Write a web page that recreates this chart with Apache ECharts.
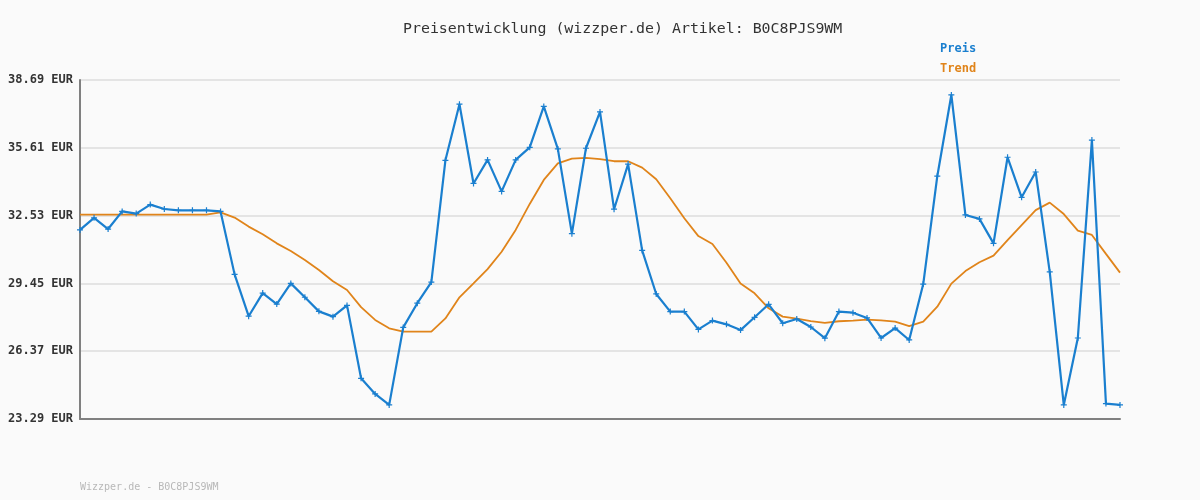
<!DOCTYPE html>
<html><head><meta charset="utf-8">
<script src="https://cdn.jsdelivr.net/npm/echarts@6/dist/echarts.min.js"></script>
<style>html,body{margin:0;padding:0;background:#fafafa}#c{width:1200px;height:500px}</style>
</head><body><div id="c"></div>
<script>
const titleText = 'Preisentwicklung (wizzper.de) Artikel: B0C8PJS9WM';
const footerText = 'Wizzper.de - B0C8PJS9WM';
const yTicks = [23.29, 26.37, 29.45, 32.53, 35.61, 38.69];
const preis = [31.88,32.43,31.92,32.72,32.62,33.03,32.83,32.77,32.77,32.77,
  32.72,29.86,27.96,29.01,28.51,29.45,28.82,28.18,27.94,28.45,
  25.14,24.43,23.93,27.45,28.55,29.51,35.04,37.59,33.99,35.06,
  33.63,35.06,35.63,37.49,35.56,31.71,35.59,37.24,32.82,34.87,
  30.95,28.97,28.17,28.17,27.36,27.76,27.59,27.33,27.91,28.50,
  27.64,27.83,27.47,26.96,28.17,28.12,27.88,26.97,27.42,26.88,
  29.42,34.32,38.01,32.56,32.38,31.27,35.18,33.36,34.51,29.97,
  23.93,26.97,35.96,23.99,23.93];
const trend = [32.57,32.57,32.57,32.57,32.57,32.57,32.57,32.57,32.57,32.57,
  32.68,32.44,32.03,31.68,31.27,30.92,30.51,30.06,29.55,29.15,
  28.37,27.79,27.41,27.26,27.26,27.26,27.86,28.82,29.45,30.10,
  30.89,31.88,33.06,34.15,34.90,35.12,35.15,35.10,35.00,35.00,
  34.71,34.18,33.32,32.41,31.60,31.24,30.39,29.45,29.00,28.32,
  27.94,27.85,27.74,27.66,27.73,27.76,27.80,27.77,27.71,27.51,
  27.71,28.39,29.44,30.01,30.41,30.71,31.42,32.10,32.78,33.12,
  32.60,31.85,31.65,30.79,29.94];
const categories = preis.map((_, i) => String(i + 1));

const mono = 'DejaVu Sans Mono';
const chart = echarts.init(document.getElementById('c'));
chart.setOption({
  backgroundColor: '#fafafa',
  animation: false,
  title: [
    {text: titleText, left: 398, top: 17, textStyle: {fontFamily: mono, fontSize: 14.9, fontWeight: 'normal', color: '#333'}},
    {text: footerText, left: 75, top: 477, textStyle: {fontFamily: mono, fontSize: 10, fontWeight: 'normal', color: '#b8b8b8'}}
  ],
  legend: {
    orient: 'vertical', left: 930, top: 38, itemGap: 8, itemWidth: 0, itemHeight: 0, icon: 'none',
    data: [
      {name: 'Preis', textStyle: {color: '#1a7fcf'}},
      {name: 'Trend', textStyle: {color: '#e0841a'}}
    ],
    textStyle: {fontFamily: mono, fontSize: 12, fontWeight: 'bold'}
  },
  grid: {left: 80, right: 80, top: 80, bottom: 81},
  xAxis: {
    type: 'category', data: categories, boundaryGap: false,
    axisLabel: {show: false}, axisTick: {show: false},
    axisLine: {lineStyle: {color: '#808080', width: 2}}
  },
  yAxis: {
    type: 'value', min: yTicks[0], max: yTicks[yTicks.length - 1], interval: 3.08,
    axisLine: {show: true, lineStyle: {color: '#808080', width: 2}},
    axisTick: {show: false},
    axisLabel: {fontFamily: mono, fontSize: 12, fontWeight: 'bold', color: '#333', margin: 7,
      formatter: v => v.toFixed(2) + ' EUR'},
    splitLine: {lineStyle: {color: '#e4e4e4', width: 2}}
  },
  series: [
    {name: 'Preis', type: 'line', data: preis, z: 3,
      lineStyle: {color: '#1a7fcf', width: 2.2}, itemStyle: {color: '#1a7fcf'},
      symbol: 'path://M2,0H3V2H5V3H3V5H2V3H0V2H2Z', symbolSize: 6, showSymbol: true},
    {name: 'Trend', type: 'line', data: trend, z: 2,
      lineStyle: {color: '#e0841a', width: 1.8}, itemStyle: {color: '#e0841a'},
      symbol: 'none'}
  ]
});
</script></body></html>
